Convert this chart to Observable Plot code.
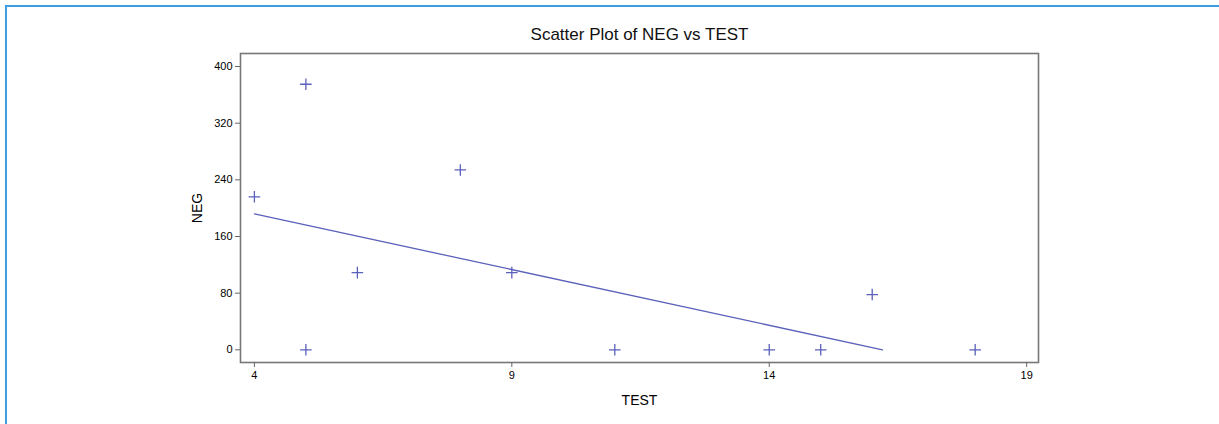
<!DOCTYPE html>
<html>
<head>
<meta charset="utf-8">
<script src="https://cdn.jsdelivr.net/npm/d3@7"></script>
<script src="https://cdn.jsdelivr.net/npm/@observablehq/plot@0.6"></script>
<style>
  html, body { margin: 0; padding: 0; background: #fff; }
  #wrap { position: relative; width: 1219px; height: 424px; overflow: hidden; font-family: "Liberation Sans", Arial, sans-serif; }
  #border { position: absolute; left: 5px; top: 5px; width: 1300px; height: 500px; border-left: 2px solid #3d9fe0; border-top: 2px solid #3d9fe0; box-sizing: border-box; }
  #wrap svg { position: absolute; left: 0; top: 0; }
</style>
</head>
<body>
<div id="wrap"><div id="border"></div></div>
<script>
// Data
const testValues = [4, 5, 5, 6, 8, 9, 11, 14, 15, 16, 18];
const negValues  = [216, 375, 0, 109, 254, 109, 0, 0, 0, 78, 0];
// Fitted line end points as drawn in the reference
const fitTest = [4, 16.2];
const fitNeg  = [192, 0];
const xTicks = [4, 9, 14, 19];
const yTicks = [0, 80, 160, 240, 320, 400];
const titleText = "Scatter Plot of NEG vs TEST";

const points = testValues.map((t, i) => ({TEST: t, NEG: negValues[i]}));
const fit = fitTest.map((t, i) => ({TEST: t, NEG: fitNeg[i]}));

const markColor = "#5b60bb";
const chart = Plot.plot({
  width: 1219,
  height: 424,
  marginLeft: 240,
  marginRight: 181,
  marginTop: 53,
  marginBottom: 62,
  style: {fontFamily: "'Liberation Sans', Arial, sans-serif", fontSize: "11px", color: "#000", background: "transparent"},
  x: {domain: [3.73, 19.23]},
  y: {domain: [-17.9, 418.4]},
  marks: [
    Plot.frame({stroke: "#777", strokeWidth: 1.6}),
    Plot.axisX({ticks: xTicks, tickSize: 5, tickPadding: 4, stroke: "#666", fill: "#000", fontSize: 11,
      label: "TEST", labelAnchor: "center", labelOffset: 42, labelArrow: "none"}),
    Plot.axisY({ticks: yTicks, tickSize: 5, tickPadding: 3, stroke: "#666", fill: "#000", fontSize: 11,
      label: "NEG", labelAnchor: "center", labelOffset: 48, labelArrow: "none"}),
    Plot.line(fit, {x: "TEST", y: "NEG", stroke: markColor, strokeWidth: 1.3}),
    Plot.dot(points, {x: "TEST", y: "NEG", symbol: "plus", r: 3.8, stroke: markColor, strokeWidth: 1.3}),
    Plot.text([titleText], {frameAnchor: "top", dy: -26, text: d => d, fontSize: 17, fill: "#111"})
  ]
});
// axis label font size
chart.querySelectorAll("g[aria-label='x-axis label'], g[aria-label='y-axis label']").forEach(g => {
  g.setAttribute("font-size", "14");
  g.querySelectorAll("text").forEach(t => t.setAttribute("font-size", "14"));
});
document.getElementById("wrap").appendChild(chart);
</script>
</body>
</html>
